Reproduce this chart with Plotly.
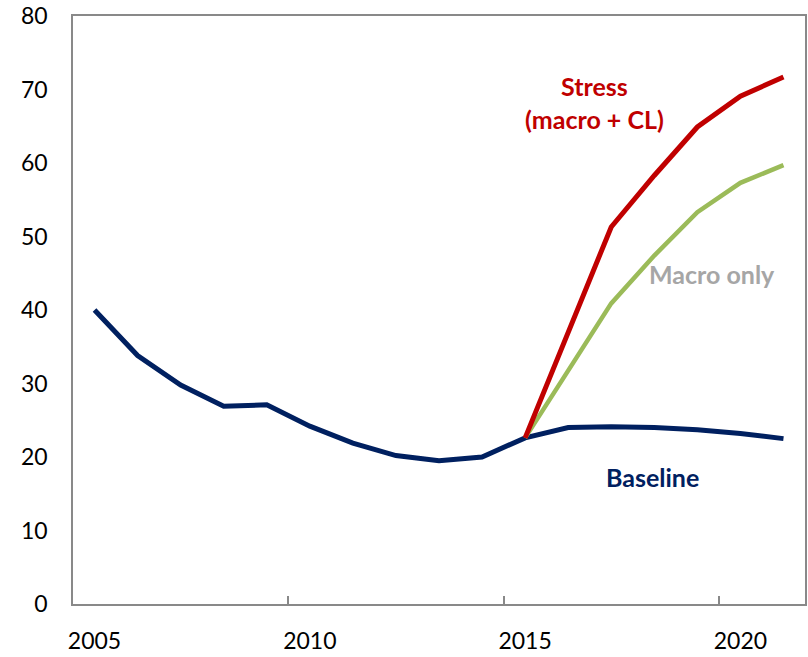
import plotly.graph_objects as go

years = list(range(2005, 2022))
baseline = [40.0, 33.8, 29.8, 26.9, 27.1, 24.2, 21.9, 20.2, 19.5, 20.0, 22.6, 24.0, 24.1, 24.0, 23.7, 23.2, 22.5]
stress_years = [2015, 2016, 2017, 2018, 2019, 2020, 2021]
stress = [22.6, 37.0, 51.3, 58.3, 64.9, 69.1, 71.7]
macro = [22.6, 31.8, 40.9, 47.4, 53.3, 57.3, 59.7]

tick_years = [2005, 2010, 2015, 2020]
tick_labels = ["2005", "2010", "2015", "2020"]
boundary_ticks = [2009.5, 2014.5, 2019.5]
y_ticks = [0, 10, 20, 30, 40, 50, 60, 70, 80]

FONT = "Lato, Carlito, Calibri, sans-serif"
AXIS = "#898989"
XRANGE = [2004.5, 2021.5]

fig = go.Figure()
fig.add_trace(go.Scatter(x=years, y=baseline, mode="lines",
                         line=dict(color="#002060", width=5), showlegend=False))
fig.add_trace(go.Scatter(x=stress_years, y=macro, mode="lines",
                         line=dict(color="#9BBB59", width=4.5), showlegend=False))
fig.add_trace(go.Scatter(x=stress_years, y=stress, mode="lines",
                         line=dict(color="#C00000", width=5), showlegend=False))
# helper trace so the tick-mark axis is drawn
fig.add_trace(go.Scatter(x=[None], y=[None], xaxis="x2", mode="lines",
                         showlegend=False, hoverinfo="skip"))

fig.add_annotation(x=2016.6, y=68.3, text="<b>Stress<br>(macro + CL)</b>", showarrow=False,
                   font=dict(color="#C00000", size=25, family=FONT), align="center")
fig.add_annotation(x=2019.35, y=44.9, text="<b>Macro only</b>", showarrow=False,
                   font=dict(color="#A6A6A6", size=25, family=FONT))
fig.add_annotation(x=2017.95, y=17.3, text="<b>Baseline</b>", showarrow=False,
                   font=dict(color="#002060", size=25, family=FONT))

fig.update_layout(
    width=808, height=657,
    margin=dict(l=73, r=1, t=16, b=53),
    plot_bgcolor="white", paper_bgcolor="white",
    font=dict(family=FONT, size=23, color="black"),
    xaxis=dict(range=XRANGE, tickvals=tick_years, ticktext=tick_labels,
               ticks="", showgrid=False, zeroline=False,
               showline=True, linecolor=AXIS, linewidth=1.5, mirror=True,
               ticklabelstandoff=16),
    xaxis2=dict(range=XRANGE, overlaying="x", side="bottom", tickvals=boundary_ticks,
                ticks="inside", ticklen=8, tickcolor=AXIS, tickwidth=1.5,
                showticklabels=False, showgrid=False, zeroline=False, showline=False),
    yaxis=dict(range=[0, 80], tickvals=y_ticks, ticks="", showgrid=False, zeroline=False,
               showline=True, linecolor=AXIS, linewidth=1.5, mirror=True,
               ticklabelstandoff=19),
)

fig.write_html("out.html", config={"displayModeBar": False},
               post_script="document.body.style.margin='0';document.body.style.padding='0';")
